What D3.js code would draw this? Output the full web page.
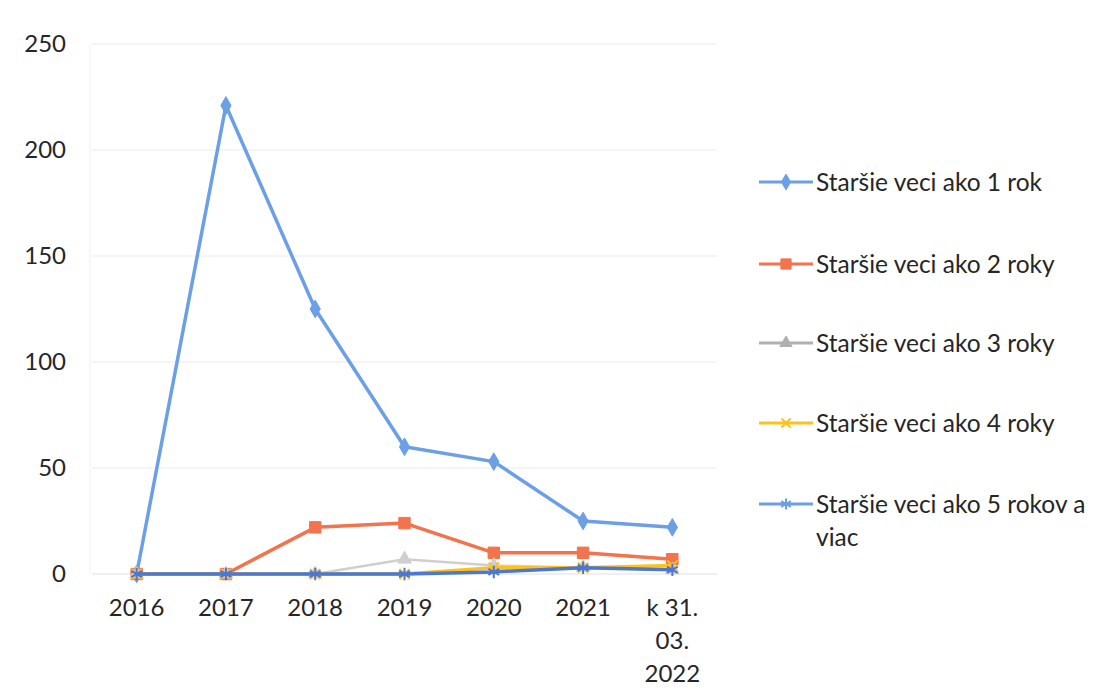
<!DOCTYPE html>
<html><head><meta charset="utf-8">
<script src="https://cdn.jsdelivr.net/npm/d3@7"></script>
<style>
body{margin:0;background:#fff;}
text{font-family:Lato,"Open Sans",sans-serif;fill:#262626;}
</style></head>
<body>
<svg id="c" width="1107" height="698"></svg>
<script>
const categories = ["2016","2017","2018","2019","2020","2021","k 31. 03. 2022"];
const categoryLines = [["2016"],["2017"],["2018"],["2019"],["2020"],["2021"],["k 31.","03.","2022"]];
const seriesNames = ["Staršie veci ako 1 rok","Staršie veci ako 2 roky","Staršie veci ako 3 roky","Staršie veci ako 4 roky","Staršie veci ako 5 rokov a viac"];
const s1 = [0,221,125,60,53,25,22];
const s2 = [0,0,22,24,10,10,7];
const s3 = [0,0,0,7,4,3,2];
const s4 = [0,0,0,0,3,3,4];
const s5 = [0,0,0,0,1,3,2];
const yTicks = [0,50,100,150,200,250];

const seriesValues = [s1,s2,s3,s4,s5];
const colors = ["#6b9fe6","#f2734c","#cfcfcf","#ffc21a","#4a78d4"];
const legendColors = ["#6b9fe6","#f2734c","#b0b0b0","#ffc21a","#6b9fe6"];
const symbols = [d3.symbolDiamond, d3.symbolSquare, d3.symbolTriangle, d3.symbolTimes, d3.symbolAsterisk];
const filled = [true,true,true,false,false];
const symSize = [90,130,80,70,110];

const svg = d3.select("#c");
const x = d3.scalePoint().domain(categories).range([92,717]).padding(0.5);
const y = d3.scaleLinear().domain([0,250]).range([574,44]);

// gridlines
svg.append("g").selectAll("line").data(yTicks).join("line")
  .attr("x1",92).attr("x2",717).attr("y1",d=>y(d)).attr("y2",d=>y(d))
  .attr("stroke",d=>d===0?"#e0e0e0":"#ececec").attr("stroke-width",1.2);
svg.append("line").attr("x1",90).attr("x2",90).attr("y1",44).attr("y2",574).attr("stroke","#f0f0f0");

// y axis labels
const yAxis = d3.axisLeft(y).tickValues(yTicks).tickSize(0).tickPadding(0);
const ya = svg.append("g").attr("transform","translate(66,0)").call(yAxis);
ya.select(".domain").remove();
ya.selectAll("text").style("font-size","24px").attr("fill","#262626").attr("font-family","Lato, 'Open Sans', sans-serif");

// x axis labels
const xa = svg.append("g");
categories.forEach((c,i)=>{
  const t = xa.append("text").attr("x",x(c)).attr("y",616).attr("text-anchor","middle").style("font-size","24px");
  categoryLines[i].forEach((ln,j)=>{
    t.append("tspan").attr("x",x(c)).attr("dy",j===0?0:33).text(ln);
  });
});

// lines
const line = d3.line().x((d,i)=>x(categories[i])).y(d=>y(d));
seriesValues.forEach((vals,si)=>{
  const g = svg.append("g");
  g.append("path").datum(vals).attr("d",line).attr("fill","none")
    .attr("stroke",colors[si]).attr("stroke-width",si===2?2.5:3.5).attr("stroke-linejoin","round");
  g.selectAll("path.m").data(vals).join("path").attr("class","m")
    .attr("transform",(d,i)=>`translate(${x(categories[i])},${y(d)})`)
    .attr("d",d3.symbol().type(symbols[si]).size(symSize[si]))
    .attr("fill",filled[si]?colors[si]:"none")
    .attr("stroke",colors[si]).attr("stroke-width",filled[si]?1:2);
});

// legend
const legY = [182,264,343,423,504];
seriesNames.forEach((n,i)=>{
  const g = svg.append("g").attr("transform",`translate(0,${legY[i]})`);
  g.append("line").attr("x1",759).attr("x2",813).attr("y1",0).attr("y2",0)
    .attr("stroke",legendColors[i]).attr("stroke-width",3);
  g.append("path").attr("transform","translate(786,0)")
    .attr("d",d3.symbol().type(symbols[i]).size(symSize[i]*0.8))
    .attr("fill",filled[i]?legendColors[i]:"none").attr("stroke",legendColors[i]).attr("stroke-width",filled[i]?1:2);
  const t = g.append("text").attr("x",816).attr("y",9).style("font-size","24.5px");
  if(i===4){
    t.append("tspan").attr("x",816).attr("dy",0).text("Staršie veci ako 5 rokov a");
    t.append("tspan").attr("x",816).attr("dy",33).text("viac");
  } else t.text(n);
});
</script>
</body></html>
